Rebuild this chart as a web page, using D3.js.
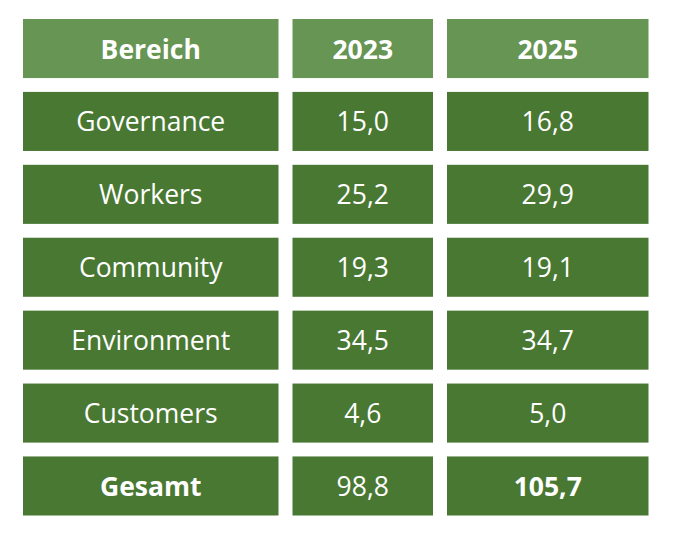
<!DOCTYPE html>
<html><head><meta charset="utf-8">
<script src="https://cdn.jsdelivr.net/npm/d3@7"></script>
<style>body{margin:0;background:#fff;}svg{display:block;}</style>
</head><body>
<svg id="c" width="676" height="538"></svg>
<script>
const headers = ["Bereich", "2023", "2025"];
const categories = ["Governance", "Workers", "Community", "Environment", "Customers", "Gesamt"];
const values2023 = ["15,0", "25,2", "19,3", "34,5", "4,6", "98,8"];
const values2025 = ["16,8", "29,9", "19,1", "34,7", "5,0", "105,7"];

const svg = d3.select("#c");
const colEdges = [[23, 278.5], [292.5, 433], [447, 648.5]];
const rowIdx = d3.range(categories.length + 1);
const y = d3.scaleBand().domain(rowIdx).range([19, 515.5]).paddingInner(0.19).paddingOuter(0);

const rows = [headers].concat(categories.map((c, i) => [c, values2023[i], values2025[i]]));
const bold = (r, c) => r === 0 || (r === rows.length - 1 && c !== 1);

rows.forEach((row, r) => {
  row.forEach((txt, c) => {
    const [x0, x1] = colEdges[c];
    const g = svg.append("g");
    g.append("rect").attr("x", x0).attr("y", y(r)).attr("width", x1 - x0).attr("height", y.bandwidth())
      .attr("fill", r === 0 ? "#679553" : "#497833");
    g.append("text").attr("x", (x0 + x1) / 2).attr("y", y(r) + y.bandwidth() / 2)
      .attr("text-anchor", "middle").attr("dominant-baseline", "central")
      .attr("font-family", "'Open Sans', sans-serif")
      .attr("font-size", 26.5)
      .attr("font-weight", bold(r, c) ? 700 : 400)
      .attr("fill", "#fff").text(txt);
  });
});
</script>
</body></html>
